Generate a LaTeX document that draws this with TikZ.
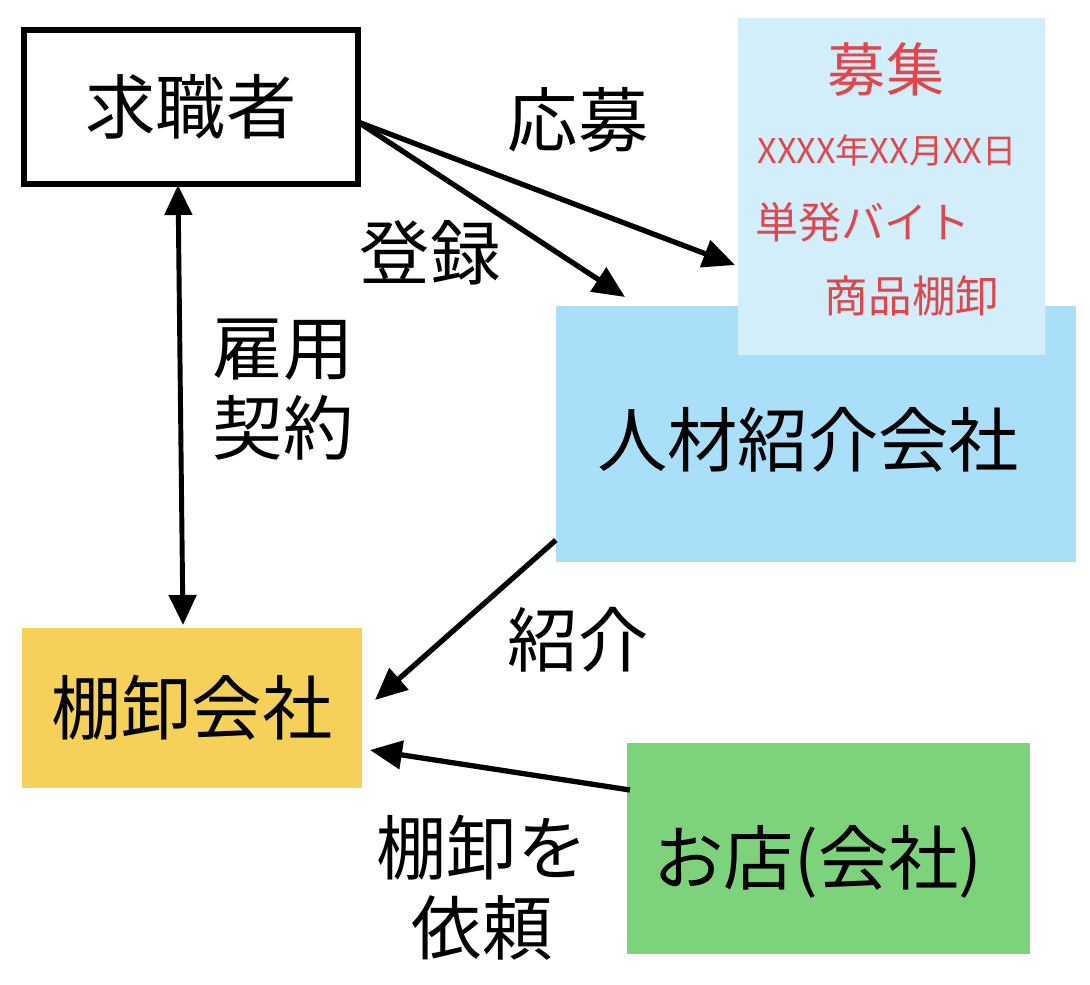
\documentclass[tikz,border=0pt]{standalone}
\usepackage{fontspec}
\setmainfont{Noto Sans CJK JP}
\usetikzlibrary{arrows.meta,calc}
\definecolor{panelblue}{HTML}{D2EEFB}
\definecolor{agencyblue}{HTML}{A9DFF8}
\definecolor{tanayellow}{HTML}{F6D15A}
\definecolor{shopgreen}{HTML}{7DD37B}
\definecolor{redtext}{HTML}{E0474C}
\begin{document}
\begin{tikzpicture}[x=0.01cm,y=-0.01cm,
  box/.style={rectangle,inner sep=0pt,outer sep=0pt},
  big/.style={font=\fontsize{20}{23}\selectfont},
  arr/.style={line width=1.5pt,-{Triangle[length=0.32cm,width=0.28cm]}},
  darr/.style={line width=1.4pt,{Triangle[length=0.3cm,width=0.27cm]}-{Triangle[length=0.3cm,width=0.27cm]}},
  lbl/.style={font=\fontsize{20}{22.8}\selectfont,align=center},
  redtxt/.style={text=redtext,inner sep=0pt}]
\useasboundingbox (0,0) rectangle (1090,984);
% boxes
\node[box,draw,line width=1.5pt,minimum width=3.34cm,minimum height=1.54cm,font=\fontsize{20}{22}\selectfont] (seeker) at (191,107) {求職者};
\node[box,fill=agencyblue,minimum width=5.2cm,minimum height=2.56cm] (agency) at (816,434) {};
\node[box,fill=panelblue,minimum width=3.07cm,minimum height=3.37cm] (panel) at (891.5,186.5) {};
\node[big,inner sep=0pt] (agencytxt) at (808,440) {人材紹介会社};
\node[box,fill=tanayellow,minimum width=3.4cm,minimum height=1.6cm,big] (tana) at (192,708) {棚卸会社};
\node[box,fill=shopgreen,minimum width=4.03cm,minimum height=2.11cm] (shop) at (828.5,848.5) {};
\node[big,inner sep=0pt] (shoptxt) at (818,862) {お店(会社)};
% red texts
\node[redtxt,font=\fontsize{16.5}{18}\selectfont] (boshu) at (886,70) {募集};
\node[redtxt,font=\fontsize{9.7}{11}\selectfont] (date) at (887,150) {XXXX年XX月XX日};
\node[redtxt,font=\fontsize{12.2}{14}\selectfont] (tanpatsu) at (863,222) {単発バイト};
\node[redtxt,font=\fontsize{12.4}{14}\selectfont] (shohin) at (912,296) {商品棚卸};
% connector anchors
\coordinate (s1) at ($(seeker.east)+(0,15)$);
\coordinate (appEnd) at (735,265);
\coordinate (regEnd) at (625,297);
\coordinate (empTop) at (178,185);
\coordinate (empBot) at (183,625);
\coordinate (intStart) at ($(agency.south west)+(0,-22)$);
\coordinate (intEnd) at (375,700);
\coordinate (reqStart) at (630,790);
\coordinate (reqEnd) at (370,750);
% arrows
\draw[arr] (s1) -- (appEnd);
\draw[arr] (s1) -- (regEnd);
\draw[darr] (empTop) -- (empBot);
\draw[arr] (intStart) -- (intEnd);
\draw[arr] (reqStart) -- (reqEnd);
% labels
\node[lbl] (lapp) at (578,120) {応募};
\node[lbl] (lreg) at (430,253) {登録};
\node[lbl] (lemp) at (283,390) {雇用\\契約};
\node[lbl] (lint) at (578,640) {紹介};
\node[lbl] (lreq) at (482,888) {棚卸を\\依頼};
\end{tikzpicture}
\end{document}
